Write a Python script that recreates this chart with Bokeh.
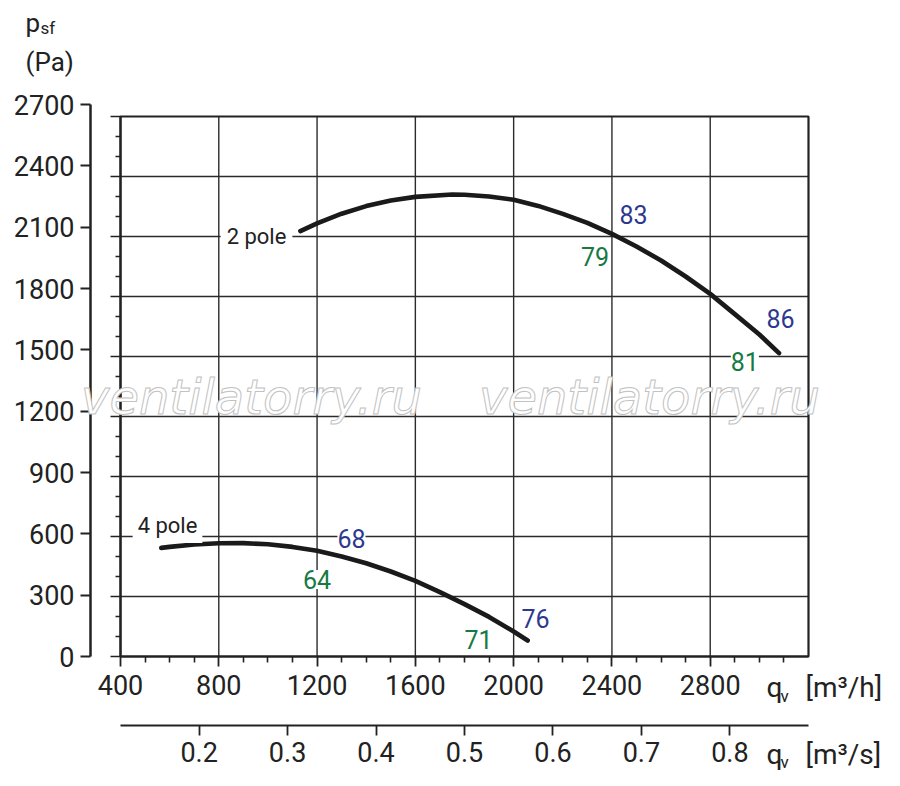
from bokeh.plotting import figure
from bokeh.models import LinearAxis, Range1d, FixedTicker, Label
from bokeh.embed import file_html
from bokeh.resources import INLINE

# ---------------- data ----------------
q_2pole = [1132, 1200, 1300, 1400, 1500, 1600, 1750, 1800, 1900, 2000, 2100, 2200, 2300,
           2400, 2500, 2600, 2700, 2800, 2900, 3000, 3080]
p_2pole = [2127, 2166, 2214, 2252, 2280, 2298, 2310, 2309, 2300, 2284, 2253, 2213, 2168,
           2113, 2050, 1980, 1900, 1813, 1712, 1610, 1517]
q_4pole = [566, 600, 700, 800, 900, 1000, 1100, 1200, 1300, 1400, 1500, 1600, 1700,
           1800, 1900, 2000, 2057]
p_4pole = [543, 548, 560, 566, 567, 561, 548, 529, 500, 466, 425, 378, 322,
           262, 198, 125, 80]

x_ticks = [400, 800, 1200, 1600, 2000, 2400, 2800]
x_minor = [v for v in range(500, 3200, 100) if v % 400 != 0]
y_ticks = [0, 300, 600, 900, 1200, 1500, 1800, 2100, 2400, 2700]
y_minor = [v for v in range(100, 2700, 100) if v % 300 != 0]
s_ticks = [0.2, 0.3, 0.4, 0.5, 0.6, 0.7, 0.8]
x_grid = [800, 1200, 1600, 2000, 2400, 2800]
y_grid = [300, 600, 900, 1200, 1500, 1800, 2100, 2400]

num_text = ["83", "79", "86", "81", "68", "64", "76", "71"]
num_q = [2488, 2331, 3086, 2941, 1340, 1200, 2089, 1857]
num_p = [2210, 2000, 1688, 1475, 590, 385, 190, 85]
num_kind = ["b", "g", "b", "g", "b", "g", "b", "g"]

BLUE = "#2d3990"
GREEN = "#177a45"
INK = "#222222"

# ---------------- geometry (picture pixels) ----------------
Q0, Q1, P1 = 400, 3200, 2700
PXQ = 688 / 2800.0        # px per m3/h
PPX = 5.0                 # Pa per px (inner scale)
W, H = 892, 778
OFF = 0                   # canvas origin in picture pixels
X_ORIG, Y_ORIG = 120, 656  # picture px of (400 m3/h, 0 Pa)

def qx(px):
    return Q0 + (px - X_ORIG) / PXQ

def py(pyx):
    return (Y_ORIG - pyx) * PPX

x_start, x_end = qx(OFF), qx(OFF + W)
y_start, y_end = py(OFF + H), py(OFF)

p = figure(width=W, height=H, x_range=Range1d(x_start, x_end), y_range=Range1d(y_start, y_end),
           x_axis_type=None, y_axis_type=None, output_backend="svg", toolbar_location=None,
           min_border_left=0, min_border_top=0, min_border_right=0, min_border_bottom=0)
p.outline_line_color = None
p.background_fill_color = "white"
p.border_fill_color = "white"

outer_scale = 552.0 / 2700   # px per Pa on the outer scale
p.extra_y_ranges = {"outer": Range1d((Y_ORIG - OFF - H) / outer_scale, (Y_ORIG - OFF) / outer_scale)}
p.extra_x_ranges = {"s": Range1d(x_start / 3600.0, x_end / 3600.0)}

FONT = "Roboto"

outer_y = LinearAxis(y_range_name="outer", fixed_location=qx(90),
                     ticker=FixedTicker(ticks=y_ticks), bounds=(0, P1),
                     major_tick_out=10, major_tick_in=0, minor_tick_out=0, minor_tick_in=0,
                     axis_line_width=2.5, axis_line_color=INK, major_tick_line_width=2,
                     major_tick_line_color=INK,
                     major_label_text_font=FONT, major_label_text_font_size="27px",
                     major_label_text_color=INK, major_label_standoff=6)
p.add_layout(outer_y, "left")

inner_y = LinearAxis(fixed_location=Q0, ticker=FixedTicker(ticks=y_ticks, minor_ticks=y_minor),
                     bounds=(0, P1), major_tick_out=10, major_tick_in=0, minor_tick_out=5,
                     minor_tick_in=0, axis_line_width=2, axis_line_color=INK,
                     major_tick_line_width=1.6, minor_tick_line_width=1.6,
                     major_tick_line_color=INK, minor_tick_line_color=INK,
                     major_label_text_alpha=0)
p.add_layout(inner_y, "left")

qh_axis = LinearAxis(fixed_location=0, ticker=FixedTicker(ticks=x_ticks, minor_ticks=x_minor),
                     bounds=(Q0, Q1), major_tick_out=10, major_tick_in=0, minor_tick_out=6,
                     minor_tick_in=0, axis_line_width=2, axis_line_color=INK,
                     major_tick_line_width=1.8, minor_tick_line_width=1.6,
                     major_tick_line_color=INK, minor_tick_line_color=INK,
                     major_label_text_font=FONT, major_label_text_font_size="27px",
                     major_label_text_color=INK, major_label_standoff=8)
p.add_layout(qh_axis, "below")

qs_axis = LinearAxis(x_range_name="s", fixed_location=py(725), ticker=FixedTicker(ticks=s_ticks),
                     bounds=(Q0 / 3600.0, Q1 / 3600.0), major_tick_out=10, major_tick_in=0,
                     minor_tick_out=0, minor_tick_in=0, axis_line_width=2.2, axis_line_color=INK,
                     major_tick_line_width=1.8, major_tick_line_color=INK,
                     major_label_text_font=FONT, major_label_text_font_size="27px",
                     major_label_text_color=INK, major_label_standoff=6)
p.add_layout(qs_axis, "below")

# grid and frame
p.segment(x0=x_grid, y0=[0] * len(x_grid), x1=x_grid, y1=[P1] * len(x_grid),
          line_color="#2b2b2b", line_width=1.4)
p.segment(x0=[Q0] * len(y_grid), y0=y_grid, x1=[Q1] * len(y_grid), y1=y_grid,
          line_color="#2b2b2b", line_width=1.4)
p.quad(left=[Q0], right=[Q1], bottom=[0], top=[P1], fill_color=None,
       line_color=INK, line_width=2.2)

# watermark
has_outline = "text_outline_color" in Label.properties()
for wx in [251, 649]:
    kw = dict(x=qx(wx), y=py(396), text="ventilatorry.ru", text_font="DejaVu Sans",
              text_font_style="italic", text_font_size="48px", text_align="center",
              text_baseline="middle")
    if has_outline:
        kw.update(text_color="white", text_outline_color="#c2c2c2")
    else:
        kw.update(text_color="#dcdcdc")
    p.add_layout(Label(**kw))

# curves
p.line(q_2pole, p_2pole, line_width=4.6, line_color="#1a1a1a", line_cap="round", line_join="round")
p.line(q_4pole, p_4pole, line_width=4.6, line_color="#1a1a1a", line_cap="round", line_join="round")

has_pad = "padding" in Label.properties()

def boxed(x, y, text, color, size, pad):
    kw = dict(x=x, y=y, text=text, text_font=FONT, text_font_size=size, text_color=color,
              text_align="center", text_baseline="middle", background_fill_color="white")
    if has_pad:
        kw["padding"] = pad
    p.add_layout(Label(**kw))

boxed(qx(256), py(236), "2 pole", INK, "22px", 6)
boxed(qx(167), py(525), "4 pole", INK, "22px", 5)
for t, q, pa, k in zip(num_text, num_q, num_p, num_kind):
    boxed(q, pa, t, BLUE if k == "b" else GREEN, "25px", 0)

# axis titles (positioned by the middle of their text)
def txt(px, mid_py, text, size):
    p.add_layout(Label(x=qx(px), y=py(mid_py), text=text,
                       text_font=FONT, text_font_size=size, text_color=INK,
                       text_align="left", text_baseline="middle"))

txt(766, 687, "q", "28px")
txt(780, 695, "v", "17px")
txt(805, 687, "[m\u00b3/h]", "28px")
txt(766, 754, "q", "28px")
txt(780, 761, "v", "17px")
txt(805, 754, "[m\u00b3/s]", "28px")
txt(25, 22, "p", "26px")
txt(40, 27, "sf", "17px")
txt(25, 61, "(Pa)", "26px")

open("out.html", "w").write(file_html(p, INLINE))
